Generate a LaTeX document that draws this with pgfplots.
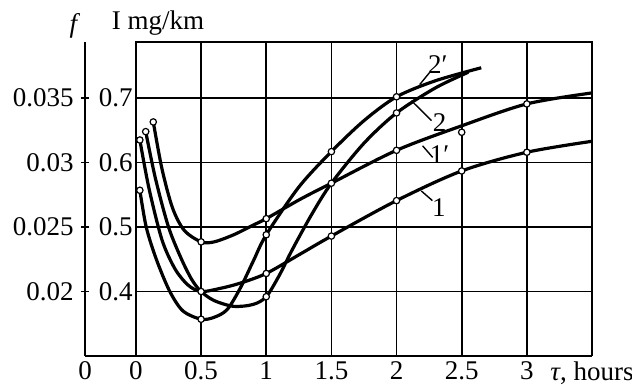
\documentclass[border=0pt]{standalone}
\usepackage{fontspec}
\setmainfont{Liberation Serif}
\usepackage{pgfplots}
\pgfplotsset{compat=1.18}
\begin{document}
\fontsize{13.5}{16}\selectfont
\begin{tikzpicture}
\begin{axis}[
  scale only axis, width=253.5pt, height=157pt,
  xmin=-0.391, xmax=3.5, ymin=0.3, ymax=0.787,
  axis x line=bottom, axis y line=left,
  axis line style={-, line width=1.2pt},
  xtick={-0.391,0,0.5,1,1.5,2,2.5,3,3.5},
  xticklabels={0,0,0.5,1,1.5,2,2.5,3,{\textit{τ}, hours}},
  xtick style={draw=none},
  ytick={0.4,0.5,0.6,0.7},
  yticklabels={0.02,0.025,0.03,0.035},
  ytick style={line width=0.8pt, black},
  tick align=center, major tick length=4pt,
  /pgf/number format/assume math mode=true,
  ticklabel style={font=\fontsize{13.5}{16}\selectfont},
  xticklabel style={yshift=4pt},
  yticklabel style={xshift=1pt},
  clip=false,
]
% grid and box
\pgfplotsinvokeforeach{0.5,1,1.5,2,2.5,3}{
  \draw[line width=0.9pt] (axis cs:#1,0.3) -- (axis cs:#1,0.787);
}
\pgfplotsinvokeforeach{0.4,0.5,0.6,0.7}{
  \draw[line width=0.9pt] (axis cs:0,#1) -- (axis cs:3.5,#1);
}
\draw[line width=1.2pt] (axis cs:0,0.3) -- (axis cs:0,0.787) -- (axis cs:3.5,0.787) -- (axis cs:3.5,0.3);
% inner labels
\node[anchor=east, inner sep=1.5pt] at (axis cs:0,0.4) {0.4};
\node[anchor=east, inner sep=1.5pt] at (axis cs:0,0.5) {0.5};
\node[anchor=east, inner sep=1.5pt] at (axis cs:0,0.6) {0.6};
\node[anchor=east, inner sep=1.5pt] at (axis cs:0,0.7) {0.7};
\node at (axis cs:-0.468,0.812) {\textit{f}};
\node at (axis cs:0.169,0.817) {I mg/km};
% curve 2'
\addplot[smooth, line width=1.6pt] coordinates {
 (0.03,0.557) (0.08,0.499) (0.16,0.448) (0.26,0.40) (0.36,0.37) (0.5,0.357)
 (0.6,0.36) (0.7,0.372) (0.8,0.405) (0.9,0.447) (1,0.488) (1.25,0.562)
 (1.5,0.617) (1.75,0.665) (2,0.702) (2.3,0.727) (2.65,0.747)};
% curve 2
\addplot[smooth, line width=1.6pt] coordinates {
 (0.075,0.648) (0.15,0.575) (0.25,0.5) (0.35,0.45) (0.43,0.418) (0.5,0.40)
 (0.6,0.386) (0.75,0.377) (0.9,0.38) (1,0.392) (1.1,0.425) (1.2,0.465)
 (1.35,0.52) (1.5,0.568) (1.75,0.63) (2,0.677) (2.3,0.716) (2.55,0.74)};
% curve 1'
\addplot[smooth, line width=1.6pt] coordinates {
 (0.133,0.663) (0.2,0.59) (0.28,0.53) (0.37,0.495) (0.5,0.477) (0.6,0.477)
 (0.75,0.488) (0.9,0.503) (1,0.513) (1.26,0.543) (1.5,0.568) (2,0.619)
 (2.5,0.657) (3,0.691) (3.5,0.708)};
% curve 1
\addplot[smooth, line width=1.6pt] coordinates {
 (0.03,0.635) (0.1,0.56) (0.2,0.48) (0.3,0.435) (0.4,0.41) (0.5,0.40)
 (0.65,0.405) (0.8,0.413) (1,0.428) (1.26,0.458) (1.5,0.486) (2,0.541)
 (2.5,0.587) (3,0.616) (3.5,0.633)};
% markers
\addplot[only marks, mark=*, mark size=1.6pt, mark options={fill=white, draw=black, line width=0.6pt}] coordinates {
 (0.03,0.557) (0.5,0.357) (1,0.488) (1.5,0.617) (2,0.702)
 (0.075,0.648) (0.5,0.40) (1,0.392) (1.5,0.568) (2,0.677)
 (0.133,0.663) (0.5,0.477) (1,0.513) (2,0.619) (2.5,0.647) (3,0.691)
 (0.03,0.635) (1,0.428) (1.5,0.486) (2,0.541) (2.5,0.587) (3,0.616)};
% curve labels
\draw[line width=0.7pt] (axis cs:2.178,0.721) -- (axis cs:2.255,0.740);
\node at (axis cs:2.316,0.752) {2′};
\draw[line width=0.7pt] (axis cs:2.114,0.696) -- (axis cs:2.268,0.665);
\node at (axis cs:2.33,0.662) {2};
\draw[line width=0.7pt] (axis cs:2.20,0.626) -- (axis cs:2.277,0.608);
\node at (axis cs:2.33,0.612) {1′};
\draw[line width=0.7pt] (axis cs:2.19,0.556) -- (axis cs:2.275,0.541);
\node at (axis cs:2.325,0.530) {1};
\end{axis}
\pgfresetboundingbox
\path[use as bounding box] ([xshift=-42.5pt,yshift=-14.5pt]current axis.south west) rectangle ([xshift=20pt,yshift=21pt]current axis.north east);
\end{tikzpicture}
\end{document}
